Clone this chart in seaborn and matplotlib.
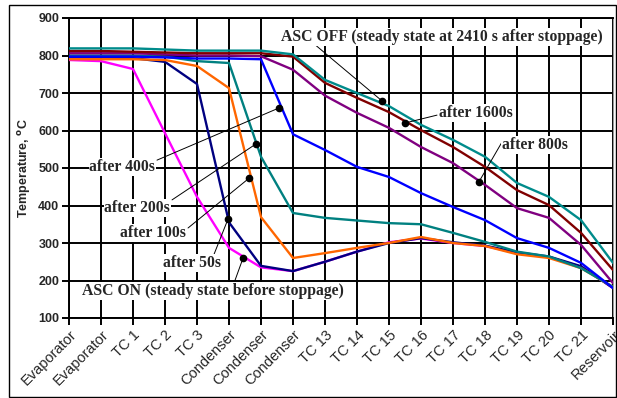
import numpy as np
import pandas as pd
import matplotlib
matplotlib.use("Agg")
import matplotlib.pyplot as plt
from matplotlib.patches import Rectangle
import seaborn as sns

# sensor positions along the loop
categories = ["Evaporator", "Evaporator", "TC 1", "TC 2", "TC 3", "Condenser",
              "Condenser", "Condenser", "TC 13", "TC 14", "TC 15", "TC 16",
              "TC 17", "TC 18", "TC 19", "TC 20", "TC 21", "Reservoir"]

asc_on = [788, 785, 764, 593, 423, 287, 235, 225, 250, 277, 302, 312, 300, 292, 273, 262, 237, 180]
after_50 = [795, 795, 793, 783, 724, 355, 239, 225, 250, 277, 300, 313, 302, 293, 275, 264, 238, 180]
after_100 = [790, 790, 790, 788, 772, 713, 369, 260, 273, 287, 300, 316, 300, 292, 270, 260, 233, 183]
after_200 = [800, 800, 800, 797, 785, 780, 530, 380, 367, 360, 353, 350, 327, 303, 277, 264, 233, 183]
after_400 = [797, 797, 797, 795, 792, 792, 790, 590, 548, 503, 476, 433, 396, 361, 313, 287, 247, 180]
after_800 = [806, 806, 806, 803, 800, 800, 798, 762, 693, 647, 607, 556, 513, 455, 393, 367, 295, 193]
after_1600 = [812, 812, 810, 808, 806, 806, 806, 797, 727, 687, 649, 601, 556, 503, 441, 401, 327, 228]
asc_off = [819, 819, 819, 816, 813, 813, 813, 803, 735, 700, 665, 615, 575, 530, 460, 423, 361, 247]

series = [
    ("ASC ON", asc_on, "#FF00FF"),
    ("after 50s", after_50, "#000080"),
    ("after 100s", after_100, "#FF6600"),
    ("after 200s", after_200, "#008080"),
    ("after 400s", after_400, "#0000FF"),
    ("after 800s", after_800, "#800080"),
    ("after 1600s", after_1600, "#800000"),
    ("ASC OFF", asc_off, "#008B8B"),
]

rows = []
for name, vals, _ in series:
    for i, v in enumerate(vals):
        rows.append({"pos": i, "temp": v, "run": name})
df = pd.DataFrame(rows)

sns.set_style("white")
plt.rcParams["font.family"] = ["Liberation Sans", "DejaVu Sans"]
plt.rcParams["mathtext.default"] = "bf"

fig = plt.figure(figsize=(6.17, 3.98), dpi=100)
ax = fig.add_axes([69 / 617, 1 - 318 / 398, (613 - 69) / 617, 300 / 398])

sns.lineplot(data=df, x="pos", y="temp", hue="run",
             palette={n: c for n, _, c in series}, hue_order=[s[0] for s in series],
             linewidth=1.7, legend=False, ax=ax, zorder=3)

ax.set_xlim(0, len(categories) - 1)
ax.set_ylim(100, 900)
ax.set_xticks(range(len(categories)))
ax.set_xticklabels(categories, rotation=45, ha="right", rotation_mode="anchor",
                   fontsize=10.5)
ax.set_yticks(range(100, 901, 100))
for t in ax.get_yticklabels():
    t.set_fontweight("bold")
    t.set_fontsize(9)
ax.grid(True, color="black", linewidth=1.4)
ax.tick_params(axis="both", length=5, width=1.4, color="black", direction="out",
               left=True, bottom=True, pad=2)
for side in ["left", "bottom", "top"]:
    ax.spines[side].set_color("black")
    ax.spines[side].set_linewidth(1.4)
ax.spines["right"].set_color("#999999")
ax.set_xlabel("")
ax.set_ylabel("Temperature, $^{o}$C", fontsize=9, fontweight="bold", labelpad=4)

# annotation labels: (text, text x, text y, line start x, line start y, dot x, dot y)
notes = [
    ("ASC OFF (steady state at 2410 s after stoppage)", 11.66, 849, 7.63, 833, 9.78, 679),
    ("after 1600s", 12.72, 647, 11.5, 641, 10.5, 620),
    ("after 800s", 14.56, 561, 13.53, 569, 12.81, 463),
    ("after 400s", 1.66, 503, 2.75, 521, 6.56, 660),
    ("after 200s", 2.13, 393, 3.22, 415, 5.84, 564),
    ("after 100s", 2.63, 327, 3.72, 340, 5.63, 473),
    ("after 50s", 3.84, 247, 4.5, 263, 4.97, 364),
    ("ASC ON (steady state before stoppage)", 4.5, 172, 5.19, 201, 5.44, 260),
]
for txt, tx, ty, lx, ly, dx, dy in notes:
    ax.plot([lx, dx], [ly, dy], color="black", linewidth=0.7, zorder=4)
    ax.plot(dx, dy, "o", color="black", markersize=4.5, zorder=5)
    ax.text(tx, ty, txt, ha="center", va="center", fontsize=11.3,
            fontweight="bold", family="Liberation Serif", zorder=6,
            bbox=dict(fc="white", ec="none", pad=0.5))

fig.add_artist(Rectangle((9 / 617, 1 / 398), 607 / 617, 392 / 398,
                         transform=fig.transFigure, fill=False,
                         ec="black", lw=1))

fig.savefig("out.png", dpi=100)
